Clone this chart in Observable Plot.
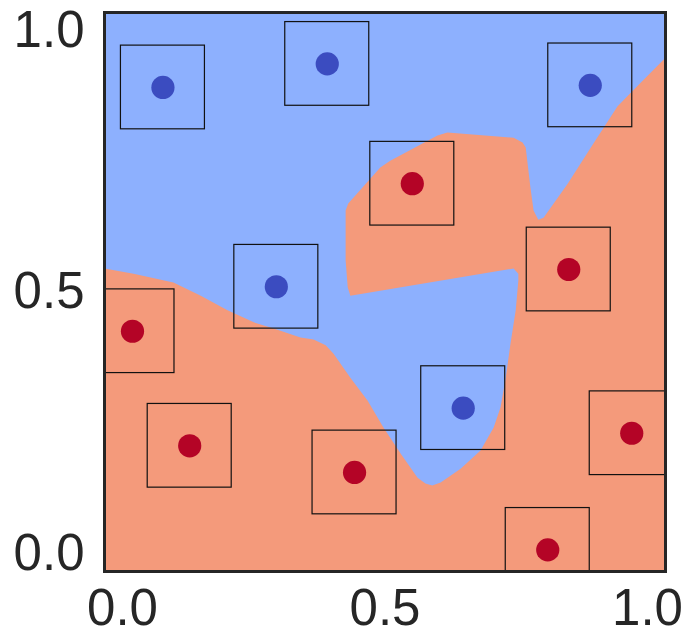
<!DOCTYPE html>
<html>
<head>
<meta charset="utf-8">
<script src="https://cdn.jsdelivr.net/npm/d3@7"></script>
<script src="https://cdn.jsdelivr.net/npm/@observablehq/plot@0.6"></script>
<style>
  html, body { margin: 0; padding: 0; background: #ffffff; }
  #chart svg { display: block; }
</style>
</head>
<body>
<div id="chart"></div>
<script>
// ---- data ----
const pointX = [0.077, 0.390, 0.891, 0.552, 0.850, 0.293, 0.019, 0.649, 0.128, 0.970, 0.442, 0.810];
const pointY = [0.891, 0.936, 0.895, 0.707, 0.543, 0.510, 0.425, 0.278, 0.206, 0.230, 0.155, 0.007];
const pointClass = ["class 0", "class 0", "class 0", "class 1", "class 1", "class 0", "class 1", "class 0", "class 1", "class 1", "class 1", "class 1"];
const classNames = ["class 0", "class 1"];
const classColors = ["#3b4cc0", "#b40426"];
const boxHalfSize = 0.08;

const axisDomain = [-0.0343, 1.0343];
const tickValues = [0, 0.5, 1];
const tickLabels = ["0.0", "0.5", "1.0"];

// outline of the class-0 (blue) decision region; the rest of the square is class 1
const blueRegion = [
  [-0.0343, 1.0343], [1.0343, 1.0343], [1.0343, 0.948],
  [0.987, 0.900], [0.943, 0.855], [0.897, 0.784], [0.848, 0.707], [0.802, 0.642],
  [0.792, 0.638], [0.783, 0.656], [0.777, 0.700], [0.768, 0.776], [0.762, 0.786],
  [0.745, 0.795], [0.619, 0.805], [0.600, 0.799], [0.510, 0.751], [0.491, 0.738],
  [0.430, 0.669], [0.425, 0.656], [0.425, 0.560], [0.429, 0.509], [0.434, 0.493],
  [0.745, 0.545], [0.754, 0.535], [0.754, 0.522], [0.749, 0.465], [0.739, 0.401],
  [0.730, 0.336], [0.720, 0.279], [0.707, 0.241], [0.682, 0.197], [0.644, 0.162],
  [0.606, 0.136], [0.590, 0.130], [0.577, 0.134], [0.562, 0.145], [0.530, 0.191],
  [0.497, 0.241], [0.467, 0.292], [0.434, 0.336], [0.402, 0.382], [0.387, 0.398],
  [0.364, 0.409], [0.339, 0.413], [0.288, 0.430], [0.250, 0.442], [0.200, 0.465],
  [0.149, 0.493], [0.097, 0.518], [0.021, 0.535], [-0.0343, 0.545]
];

// ---- build table ----
const points = pointX.map((x, i) => ({x, y: pointY[i], cls: pointClass[i]}));
const clampD = v => Math.max(axisDomain[0], Math.min(axisDomain[1], v));
const fmt = v => tickLabels[tickValues.indexOf(v)];

const plot = Plot.plot({
  width: 685,
  height: 635,
  marginLeft: 104,
  marginRight: 20,
  marginTop: 12,
  marginBottom: 64,
  style: {
    fontFamily: "'Liberation Sans', Arial, sans-serif",
    fontSize: "51px",
    color: "#262626",
    background: "#ffffff",
    overflow: "visible"
  },
  x: {domain: axisDomain, ticks: tickValues, tickFormat: fmt, tickSize: 0, tickPadding: 17, label: null},
  y: {domain: axisDomain, ticks: tickValues, tickFormat: fmt, tickSize: 0, tickPadding: 20, label: null},
  color: {domain: classNames, range: classColors},
  marks: [
    Plot.frame({fill: "#f49a7b", stroke: "none"}),
    Plot.line(blueRegion, {x: d => d[0], y: d => d[1], fill: "#8db0fe", stroke: "none", curve: "linear-closed"}),
    Plot.rect(points, {
      x1: d => clampD(d.x - boxHalfSize), x2: d => clampD(d.x + boxHalfSize),
      y1: d => clampD(d.y - boxHalfSize), y2: d => clampD(d.y + boxHalfSize),
      fill: "none", stroke: "#111111", strokeWidth: 1.2
    }),
    Plot.dot(points, {x: "x", y: "y", r: 11.6, fill: "cls", stroke: "none"}),
    Plot.frame({stroke: "#262626", strokeWidth: 3})
  ]
});
document.getElementById("chart").appendChild(plot);
</script>
</body>
</html>
